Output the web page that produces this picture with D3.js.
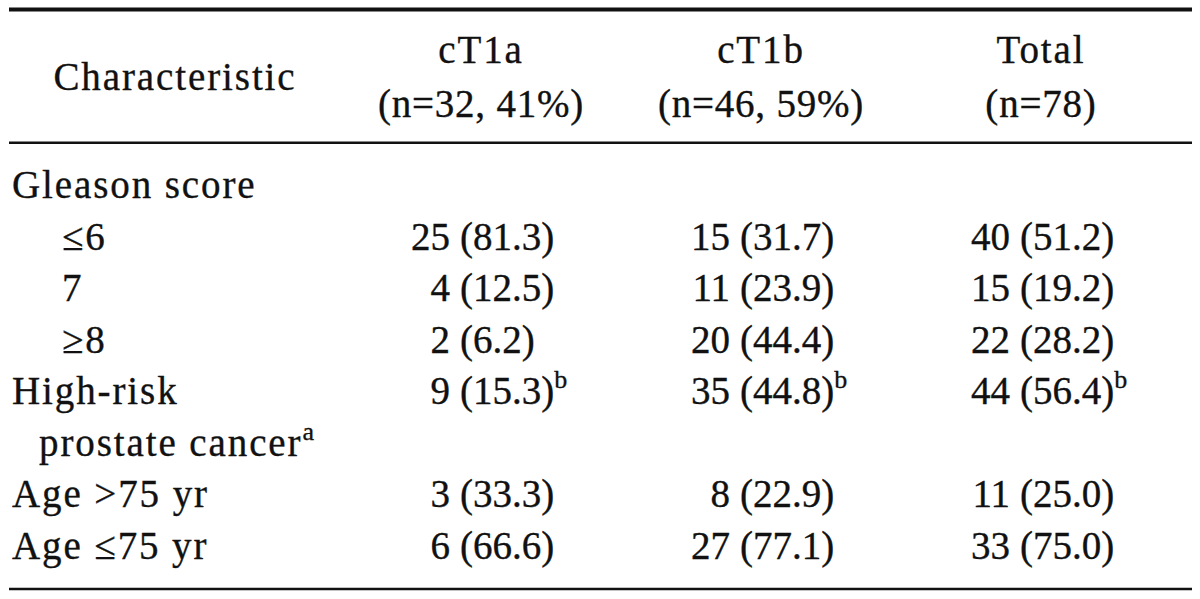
<!DOCTYPE html>
<html>
<head>
<meta charset="utf-8">
<script src="https://cdn.jsdelivr.net/npm/d3@7"></script>
<style>
  html, body { margin: 0; padding: 0; background: #fff; }
  svg text { font-family: "Liberation Serif", "Times New Roman", serif; fill: #111; stroke: #111; stroke-width: 0.35px; }
  .lbl { letter-spacing: 1.9px; }
</style>
</head>
<body>
<div id="chart"></div>
<script>
// table content
var rowLabels = ["Gleason score", "\u22646", "7", "\u22658", "High-risk", "prostate cancer", "Age >75 yr", "Age \u226475 yr"];
var rowKind = ["group", "sub", "sub", "sub", "item", "wrap", "item", "item"];
var rowLabelNote = [null, null, null, null, null, "a", null, null];
var rowValueNote = [null, null, null, null, "b", null, null, null];

var columnNames = ["cT1a", "cT1b", "Total"];
var columnSizes = ["(n=32, 41%)", "(n=46, 59%)", "(n=78)"];

var cT1aCounts = [null, 25, 4, 2, 9, null, 3, 6];
var cT1aPct = [null, 81.3, 12.5, 6.2, 15.3, null, 33.3, 66.6];
var cT1bCounts = [null, 15, 11, 20, 35, null, 8, 27];
var cT1bPct = [null, 31.7, 23.9, 44.4, 44.8, null, 22.9, 77.1];
var totalCounts = [null, 40, 15, 22, 44, null, 11, 33];
var totalPct = [null, 51.2, 19.2, 28.2, 56.4, null, 25.0, 75.0];

var counts = [cT1aCounts, cT1bCounts, totalCounts];
var pcts = [cT1aPct, cT1bPct, totalPct];

var width = 1200, height = 599;
var fontSize = 39;

var svg = d3.select("#chart").append("svg")
  .attr("width", width)
  .attr("height", height);

svg.append("rect").attr("width", width).attr("height", height).attr("fill", "#fff");

// row baselines and column anchors
var y = d3.scaleLinear().domain([0, rowLabels.length - 1]).range([198, 559]);
var x = d3.scalePoint().domain(columnNames).range([450, 1010]);
var indent = { group: 12, item: 12, sub: 62, wrap: 39 };
var fmt = d3.format(".1f");

// horizontal rules
var rules = [{ y: 9.5, w: 4 }, { y: 142.7, w: 2.5 }, { y: 589, w: 2.5 }];
svg.selectAll(".rule").data(rules).enter().append("line")
  .attr("class", "rule")
  .attr("x1", 9).attr("x2", 1192)
  .attr("y1", function(d) { return d.y; })
  .attr("y2", function(d) { return d.y; })
  .attr("stroke", "#111")
  .attr("stroke-width", function(d) { return d.w; });

// header
svg.append("text")
  .attr("class", "lbl")
  .attr("x", 175).attr("y", 90)
  .attr("text-anchor", "middle")
  .attr("font-size", fontSize)
  .text("Characteristic");

var head = svg.selectAll(".head").data(columnNames).enter().append("g")
  .attr("class", "head")
  .attr("transform", function(d) { return "translate(" + (x(d) + 31) + ",0)"; });

head.append("text")
  .attr("class", "lbl")
  .attr("y", 63)
  .attr("text-anchor", "middle")
  .attr("font-size", fontSize)
  .text(function(d) { return d; });

head.append("text")
  .attr("y", 117)
  .attr("text-anchor", "middle")
  .attr("font-size", fontSize)
  .attr("letter-spacing", "0.8px")
  .text(function(d, i) { return columnSizes[i]; });

// row labels
var lbl = svg.selectAll(".row").data(rowLabels).enter().append("text")
  .attr("class", "row lbl")
  .attr("x", function(d, i) { return indent[rowKind[i]]; })
  .attr("y", function(d, i) { return y(i); })
  .attr("font-size", fontSize);

lbl.append("tspan").text(function(d) { return d; });
lbl.filter(function(d, i) { return rowLabelNote[i]; })
  .append("tspan")
  .attr("dy", -16)
  .attr("font-size", 26)
  .attr("letter-spacing", "0px")
  .text(function(d) { return rowLabelNote[rowLabels.indexOf(d)]; });

// value cells
columnNames.forEach(function(col, c) {
  var cells = rowLabels.map(function(r, i) {
    return { row: i, n: counts[c][i], p: pcts[c][i], note: rowValueNote[i] };
  }).filter(function(d) { return d.n != null; });

  var g = svg.append("g").attr("class", "col");

  g.selectAll(".n").data(cells).enter().append("text")
    .attr("class", "n")
    .attr("x", x(col))
    .attr("y", function(d) { return y(d.row); })
    .attr("text-anchor", "end")
    .attr("font-size", fontSize)
    .text(function(d) { return d.n; });

  var pt = g.selectAll(".p").data(cells).enter().append("text")
    .attr("class", "p")
    .attr("x", x(col) + 10)
    .attr("y", function(d) { return y(d.row); })
    .attr("font-size", fontSize);

  pt.append("tspan").text(function(d) { return "(" + fmt(d.p) + ")"; });
  pt.filter(function(d) { return d.note; })
    .append("tspan")
    .attr("dy", -16)
    .attr("font-size", 26)
    .text(function(d) { return d.note; });
});
</script>
</body>
</html>
